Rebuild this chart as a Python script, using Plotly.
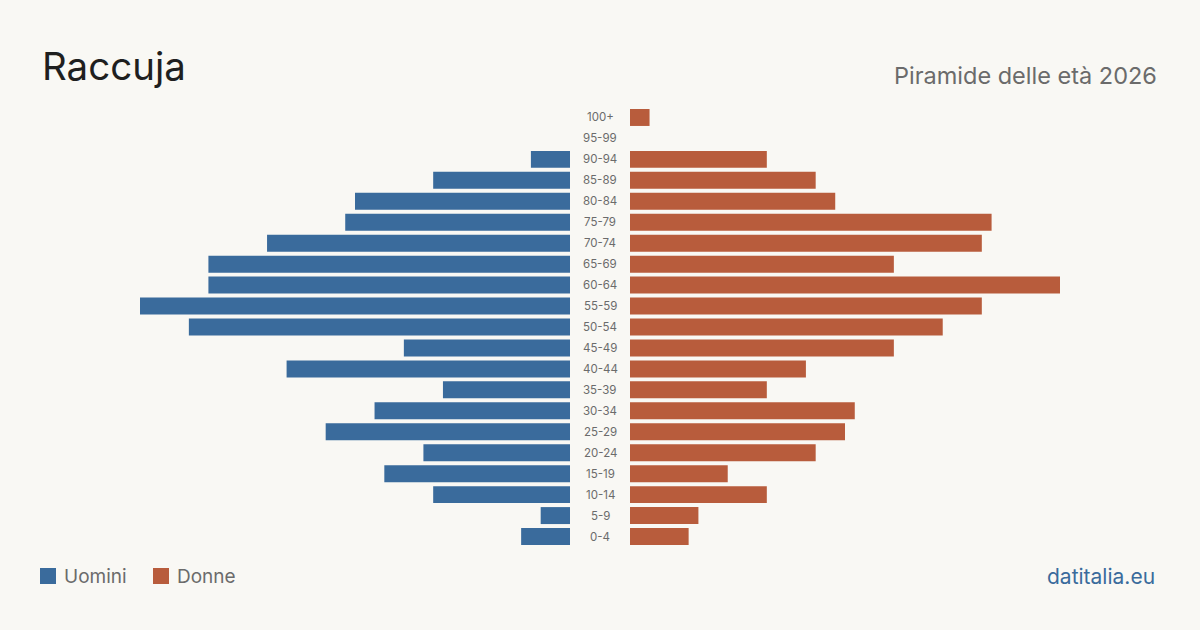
import plotly.graph_objects as go

age_groups = ["100+", "95-99", "90-94", "85-89", "80-84", "75-79", "70-74", "65-69",
              "60-64", "55-59", "50-54", "45-49", "40-44", "35-39", "30-34", "25-29",
              "20-24", "15-19", "10-14", "5-9", "0-4"]
men = [0, 0, 4, 14, 22, 23, 31, 37, 37, 44, 39, 17, 29, 13, 20, 25, 15, 19, 14, 3, 5]
women = [2, 0, 14, 19, 21, 37, 36, 27, 44, 36, 32, 27, 18, 14, 23, 22, 19, 10, 14, 7, 6]

title = "Raccuja"
subtitle = "Piramide delle età 2026"
source = "datitalia.eu"
legend_labels = ["Uomini", "Donne"]

BLUE = "#3a6b9c"
ORANGE = "#b85c3c"
BG = "#f9f8f4"
FONT = "Inter, Liberation Sans, sans-serif"
W, H = 1200, 630
XMAX = 44
T, B = 107, 83
PH = H - T - B


def py(ypix):
    # convert a pixel y (from top of figure) to paper coordinates of the plot area
    return (H - B - ypix) / PH


def nz(vals):
    return [v if v else None for v in vals]


fig = go.Figure()
fig.add_trace(go.Bar(y=age_groups, x=nz(men), orientation="h", marker_color=BLUE,
                     marker_line_width=0, xaxis="x", yaxis="y", showlegend=False,
                     name=legend_labels[0]))
fig.add_trace(go.Bar(y=age_groups, x=nz(women), orientation="h", marker_color=ORANGE,
                     marker_line_width=0, xaxis="x2", yaxis="y", showlegend=False,
                     name=legend_labels[1]))

annotations = []
for a in age_groups:
    annotations.append(dict(x=0.5, xref="paper", y=a, yref="y", text=a, showarrow=False,
                            font=dict(family=FONT, size=11.5, color="#6b6b6b"),
                            xanchor="center", yanchor="middle"))
annotations += [
    dict(x=40 / W, y=py(66), xref="paper", yref="paper", text=title, showarrow=False,
         xanchor="left", yanchor="middle", font=dict(family=FONT, size=38.5, color="#1f1f1f")),
    dict(x=1159 / W, y=py(76), xref="paper", yref="paper", text=subtitle, showarrow=False,
         xanchor="right", yanchor="middle", font=dict(family=FONT, size=23.5, color="#6b6b6b")),
    dict(x=1157 / W, y=py(576), xref="paper", yref="paper", text=source, showarrow=False,
         xanchor="right", yanchor="middle", font=dict(family=FONT, size=21, color=BLUE)),
    dict(x=62 / W, y=py(576), xref="paper", yref="paper", text=legend_labels[0], showarrow=False,
         xanchor="left", yanchor="middle", font=dict(family=FONT, size=19, color="#6b6b6b")),
    dict(x=175 / W, y=py(576), xref="paper", yref="paper", text=legend_labels[1], showarrow=False,
         xanchor="left", yanchor="middle", font=dict(family=FONT, size=19, color="#6b6b6b")),
]

shapes = [
    dict(type="rect", xref="paper", yref="paper", x0=40 / W, x1=56 / W,
         y0=py(584), y1=py(568), fillcolor=BLUE, line_width=0),
    dict(type="rect", xref="paper", yref="paper", x0=153 / W, x1=169 / W,
         y0=py(584), y1=py(568), fillcolor=ORANGE, line_width=0),
]

fig.update_layout(
    width=W, height=H,
    paper_bgcolor=BG, plot_bgcolor=BG,
    margin=dict(l=0, r=0, t=T, b=B),
    bargap=0.19,
    xaxis=dict(domain=[140 / W, 570 / W], range=[XMAX, 0], visible=False, fixedrange=True),
    xaxis2=dict(domain=[630 / W, 1060 / W], range=[0, XMAX], visible=False, fixedrange=True),
    yaxis=dict(categoryorder="array", categoryarray=age_groups[::-1], visible=False,
               range=[-0.5, len(age_groups) - 0.5]),
    annotations=annotations,
    shapes=shapes,
    font=dict(family=FONT),
)

fig.write_html("out.html")
